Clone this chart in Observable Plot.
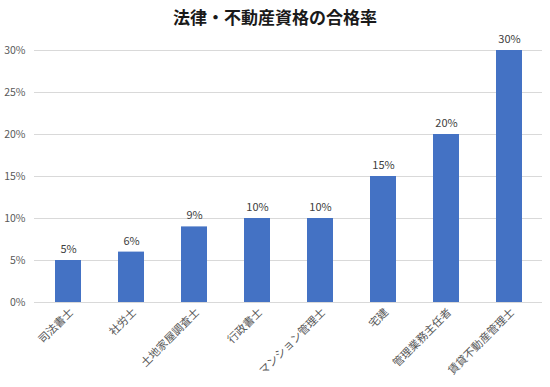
<!DOCTYPE html>
<html><head><meta charset="utf-8">
<script src="https://cdn.jsdelivr.net/npm/d3@7"></script>
<script src="https://cdn.jsdelivr.net/npm/@observablehq/plot@0.6"></script>
<style>
body{margin:0;background:#fff;font-family:"Noto Sans CJK JP","Noto Sans",sans-serif;}
#title{height:30px;padding-top:2px;line-height:30px;text-align:center;font-size:17px;font-weight:bold;color:#1a1a1a;width:550px;box-sizing:border-box;}
</style></head><body>
<div id="title">法律・不動産資格の合格率</div>
<div id="chart"></div>
<script>
const categories = ["司法書士","社労士","土地家屋調査士","行政書士","マンション管理士","宅建","管理業務主任者","賃貸不動産管理士"];
const rates = [0.05,0.06,0.09,0.10,0.10,0.15,0.20,0.30];
const yTicks = [0,0.05,0.10,0.15,0.20,0.25,0.30];
const data = categories.map((c,i)=>({cat:c, v:rates[i]}));
const fmt = d3.format(".0%");
const plot = Plot.plot({
  width:550, height:357,
  marginTop:20, marginBottom:85, marginLeft:34, marginRight:8,
  style:{fontFamily:"'Noto Sans CJK JP','Noto Sans',sans-serif", fontSize:"10.5px", color:"#595959", background:"#fff"},
  x:{domain:categories, paddingInner:0.59, paddingOuter:0.295, label:null},
  y:{domain:[0,0.30], label:null},
  marks:[
    Plot.gridY(yTicks,{stroke:"#d9d9d9", strokeOpacity:1}),
    Plot.axisY(yTicks,{tickSize:0, tickPadding:9, tickFormat:fmt, label:null, fill:"#595959"}),
    Plot.axisX({tickSize:0, tickRotate:-45, tickPadding:8, dx:3, label:null, fill:"#595959", fontSize:11}),
    Plot.barY(data,{x:"cat", y:"v", fill:"#4472c4"}),
    Plot.ruleY([0],{stroke:"#d9d9d9"}),
    Plot.text(data,{x:"cat", y:"v", text:d=>fmt(d.v), dy:-11, fill:"#404040", fontSize:11})
  ]
});
document.getElementById("chart").appendChild(plot);
</script>
</body></html>
